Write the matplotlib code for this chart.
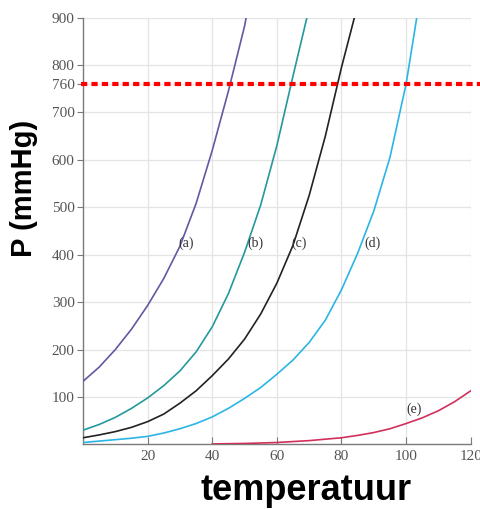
import matplotlib
matplotlib.use("Agg")
import matplotlib.pyplot as plt
import matplotlib.transforms as mtransforms

# vapour pressure curves (temperature in C, pressure in mmHg)
t_a = [0, 5, 10, 15, 20, 25, 30, 35, 40, 45, 50, 50.5]
p_a = [133, 163, 200, 243, 293, 350, 418, 508, 620, 745, 882, 900]

t_b = [0, 5, 10, 15, 20, 25, 30, 35, 40, 45, 50, 55, 60, 65, 69.3]
p_b = [30, 42, 57, 76, 98, 124, 155, 195, 248, 318, 405, 505, 630, 777, 900]

t_c = [0, 5, 10, 15, 20, 25, 30, 35, 40, 45, 50, 55, 60, 65, 70, 75, 80, 84]
p_c = [14, 20, 27, 36, 48, 64, 87, 113, 145, 180, 222, 275, 340, 420, 525, 650, 795, 900]

t_d = [0, 5, 10, 15, 20, 25, 30, 35, 40, 45, 50, 55, 60, 65, 70, 75, 80, 85, 90, 95, 100, 103.3]
p_d = [4, 7, 10, 13, 17, 24, 33, 44, 58, 76, 97, 120, 148, 178, 215, 262, 326, 403, 492, 605, 760, 900]

t_e = [40, 45, 50, 55, 60, 65, 70, 75, 80, 85, 90, 95, 100, 105, 110, 115, 120]
p_e = [1, 1.5, 2, 3, 4, 6, 8, 11, 14, 19, 25, 33, 44, 56, 71, 90, 113]

curve_labels = ['(a)', '(b)', '(c)', '(d)', '(e)']
label_t = [32, 53.5, 67, 89.5, 102.5]
label_p = [425, 425, 425, 425, 75]

x_ticks = [20, 40, 60, 80, 100, 120]
y_ticks = [100, 200, 300, 400, 500, 600, 700, 760, 800, 900]
p_atm = 760

colors = ['#5f5aa2', '#23999b', '#222222', '#2bb5e6', '#d2305a']

fig = plt.figure(figsize=(4.81, 5.09), dpi=100)
ax = fig.add_axes([0.1726, 0.1269, 0.806, 0.8385])

curves = [(t_a, p_a), (t_b, p_b), (t_c, p_c), (t_d, p_d), (t_e, p_e)]
for (t, p), c in zip(curves, colors):
    ax.plot(t, p, color=c, lw=1.2, zorder=3, solid_joinstyle='round')

for lab, lt, lp in zip(curve_labels, label_t, label_p):
    ax.text(lt, lp, lab, fontsize=10, family='Liberation Serif',
            color='#333333', ha='center', va='center', zorder=4)

# atmospheric pressure line, runs past the right edge of the plot
trans = mtransforms.blended_transform_factory(ax.transAxes, ax.transData)
ax.plot([-0.005, 1.03], [p_atm, p_atm], transform=trans, color='#ff0000',
        lw=3, linestyle=(0, (1.5, 1)), clip_on=False, zorder=5)

ax.set_xlim(0, 120)
ax.set_ylim(0, 900)
ax.set_xticks(x_ticks)
ax.set_yticks(y_ticks)
ax.grid(True, color='#e4e4e4', lw=0.9, zorder=0)
ax.set_axisbelow(True)

for s in ['top', 'right']:
    ax.spines[s].set_visible(False)
for s in ['left', 'bottom']:
    ax.spines[s].set_color('#7a7a7a')
    ax.spines[s].set_linewidth(1.0)

ax.tick_params(axis='x', direction='in', length=5, color='#7a7a7a',
               labelsize=11, labelcolor='#555555', pad=4)
ax.tick_params(axis='y', direction='out', length=4, color='#7a7a7a',
               labelsize=11, labelcolor='#555555', pad=2)
for lbl in ax.get_xticklabels() + ax.get_yticklabels():
    lbl.set_family('Liberation Serif')

fig.text(0.05, 0.63, 'P (mmHg)', rotation=90, fontsize=21, fontweight='bold',
         family='Liberation Sans', ha='center', va='center')
fig.text(0.636, 0.036, 'temperatuur', fontsize=26, fontweight='bold',
         family='Liberation Sans', ha='center', va='center')

fig.savefig('out.png', dpi=100)
